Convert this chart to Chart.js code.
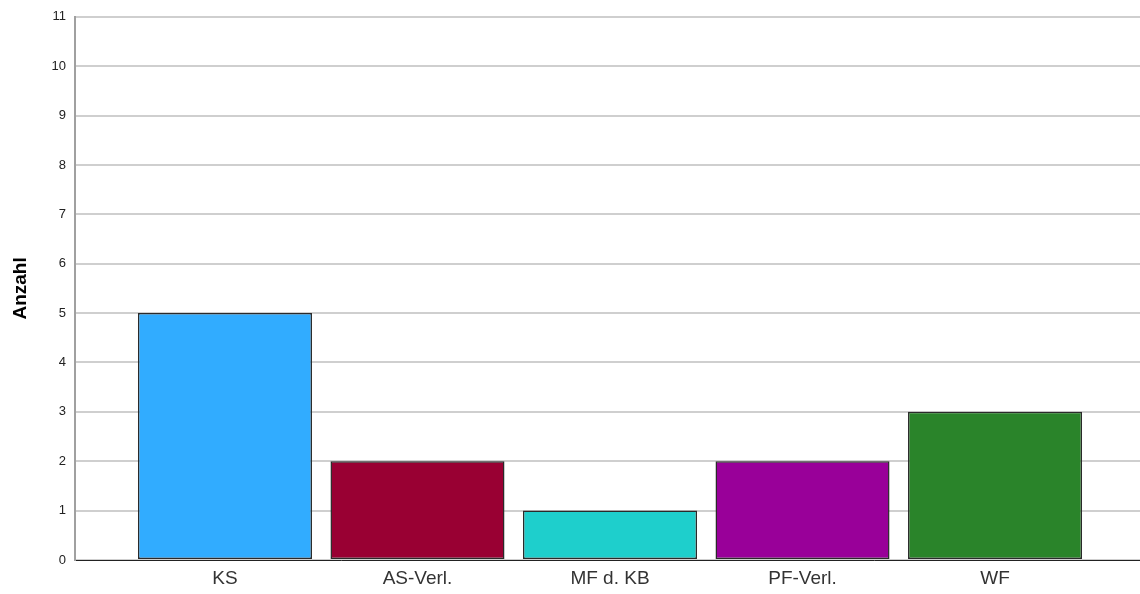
<!DOCTYPE html>
<html>
<head>
<meta charset="utf-8">
<script src="https://cdn.jsdelivr.net/npm/chart.js@4"></script>
<style>
  html, body { margin: 0; padding: 0; background: #fff; }
  #wrap { width: 1140px; height: 594px; }
</style>
</head>
<body>
<div id="wrap"><canvas id="chart" width="1140" height="594"></canvas></div>
<script>
const categories = ["KS", "AS-Verl.", "MF d. KB", "PF-Verl.", "WF"];
const counts = [5, 2, 1, 2, 3];
const barColors = ["#31acff", "#990033", "#1ecfcc", "#990099", "#2a842a"];
const yTicks = [0, 1, 2, 3, 4, 5, 6, 7, 8, 9, 10, 11];

const ctx = document.getElementById("chart").getContext("2d");

new Chart(ctx, {
  type: "bar",
  data: {
    datasets: [{
      data: counts.map((c, i) => ({ x: i + 1, y: c })),
      backgroundColor: barColors,
      borderColor: "#2a2a2a",
      borderWidth: 1.5,
      borderSkipped: false,
      categoryPercentage: 1,
      barPercentage: 0.904
    }]
  },
  options: {
    responsive: false,
    animation: false,
    layout: { padding: { top: 15, right: 0, left: 0, bottom: 0 } },
    plugins: {
      legend: { display: false },
      tooltip: { enabled: false }
    },
    scales: {
      x: {
        type: "linear",
        offset: false,
        min: 0.221,
        max: 5.753,
        grid: { display: false, drawTicks: false },
        border: { color: "#222", width: 1 },
        afterBuildTicks: (scale) => {
          scale.ticks = categories.map((c, i) => ({ value: i + 1 }));
        },
        afterFit: (scale) => { scale.height = 34; },
        ticks: {
          autoSkip: false,
          maxRotation: 0,
          padding: 7,
          color: "#333",
          font: { family: "Liberation Sans, Arial", size: 19 },
          callback: (v) => categories[v - 1] ?? ""
        }
      },
      y: {
        min: 0,
        max: 11,
        afterBuildTicks: (scale) => {
          scale.ticks = yTicks.map(v => ({ value: v }));
        },
        afterFit: (scale) => { scale.width = 75; },
        grid: { color: "#cfcfcf", lineWidth: 2, drawTicks: false },
        border: { color: "#a0a0a0", width: 2 },
        ticks: {
          padding: 9,
          color: "#222",
          font: { family: "Liberation Sans, Arial", size: 13 }
        },
        title: {
          display: true,
          text: "Anzahl",
          color: "#000",
          padding: { top: 9, bottom: 4 },
          font: { family: "Liberation Sans, Arial", size: 19, weight: "bold" }
        }
      }
    }
  }
});
</script>
</body>
</html>
